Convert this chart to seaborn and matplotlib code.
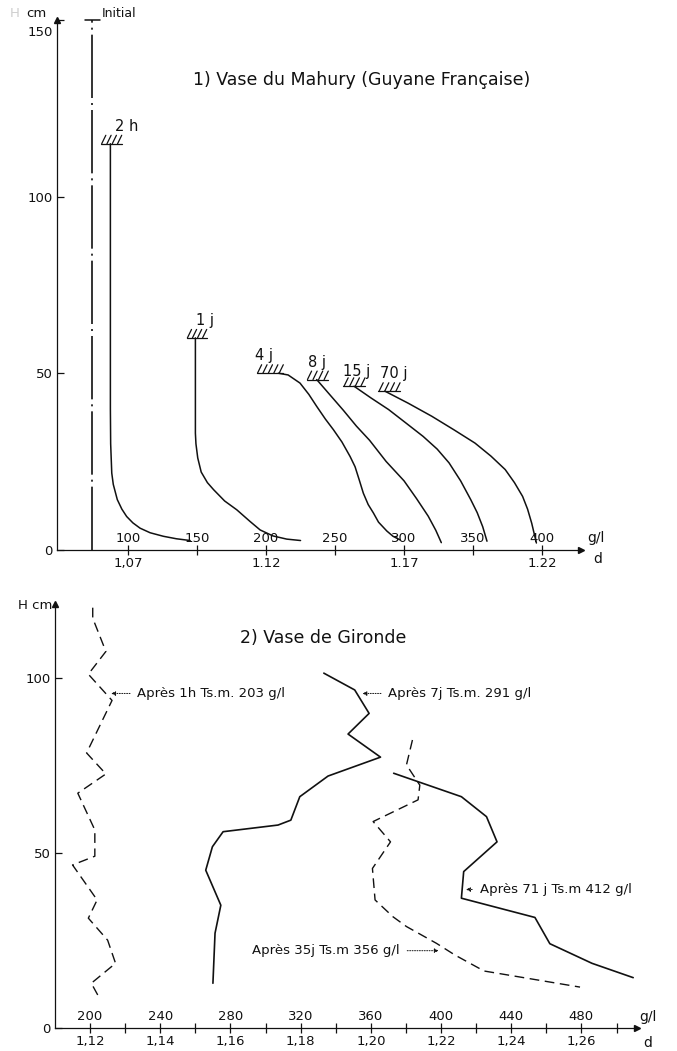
import numpy as np
import pandas as pd
import matplotlib
matplotlib.use("Agg")
import matplotlib.pyplot as plt
import matplotlib.transforms as mtransforms
import seaborn as sns

# ---------------- Panel 1 : Vase du Mahury (g/l , cm) ----------------
initial_g = [74, 74]
initial_cm = [0, 150]

h2_g = [87.2, 87.2, 87.4, 88.2, 89.3, 92.2, 95.5, 99.0, 103.5, 108.7, 116.0, 125.6, 135.0, 145.0]
h2_cm = [115, 40, 30, 21.7, 18.5, 14.2, 11.5, 9.4, 7.6, 6.1, 4.8, 3.8, 3.1, 2.6]

j1_g = [148.8, 148.8, 149.2, 150.5, 153.0, 157.5, 162.0, 170.0, 178.8, 188.4, 195.7, 205.0, 215.0, 225.0]
j1_cm = [60, 33, 30, 26, 22, 19, 17, 13.8, 11.3, 8.0, 5.6, 3.9, 3.0, 2.6]

j4_g = [208.9, 216.0, 224.6, 231.0, 236.7, 243.0, 248.8, 255.0, 260.9, 264.5, 267.5, 270.5, 274.0, 277.8, 281.5, 287.5, 292.0, 297.0]
j4_cm = [50, 49.5, 47.2, 44.0, 40.6, 37.0, 34.0, 30.5, 26.4, 23.5, 19.8, 16.0, 12.8, 10.4, 7.8, 5.3, 3.8, 2.8]

j8_g = [236.7, 246.0, 256.0, 265.5, 275.0, 287.0, 300.0, 309.0, 317.5, 323.0, 327.0]
j8_cm = [48.2, 44.0, 39.5, 35.0, 31.0, 25.0, 19.5, 14.5, 9.5, 5.5, 2.0]

j15_g = [263.8, 276.0, 288.8, 301.0, 313.8, 324.0, 332.6, 341.0, 348.3, 353.0, 357.0, 360.1]
j15_cm = [46.3, 43.0, 39.7, 36.0, 32.1, 28.5, 24.6, 19.5, 14.2, 10.5, 6.5, 2.4]

j70_g = [286.2, 303.0, 320.1, 336.0, 351.4, 363.0, 373.3, 380.0, 385.9, 389.5, 392.5, 395.9]
j70_cm = [44.9, 41.5, 37.8, 34.0, 30.2, 26.5, 22.7, 19.0, 15.1, 11.5, 7.5, 1.9]

top_curve_labels = ["2 h", "1 j", "4 j", "8 j", "15 j", "70 j"]
top_label_g = [90.5, 149.5, 192.0, 230.5, 255.5, 282.5]
top_label_cm = [120, 65, 55, 53, 50.5, 50]

top_gl_ticks = [100, 150, 200, 250, 300, 350, 400]
top_d_ticks = [1.07, 1.12, 1.17, 1.22]
top_d_labels = ["1,07", "1.12", "1.17", "1.22"]
top_y_ticks = [0, 50, 100, 150]

# ---------------- Panel 2 : Vase de Gironde (g/l , cm) ----------------
a1h_g = [201.5, 201.5, 209.0, 199.0, 212.5, 198.0, 209.0, 193.0, 202.7, 202.7, 190.0, 204.0, 199.0, 210.0, 214.5, 200.7, 205.5]
a1h_cm = [120, 117, 107.5, 101, 93.5, 78.5, 72.5, 67, 56.5, 49, 46.5, 36.5, 31.3, 25, 18.4, 12.7, 8.3]

a7j_g = [333.2, 350.8, 359.0, 347.0, 365.5, 335.6, 319.5, 314.4, 307.1, 275.8, 269.7, 265.9, 274.5, 271.2, 270.0]
a7j_cm = [101.3, 96.5, 89.8, 83.9, 77.3, 71.9, 66.0, 59.3, 57.9, 56.0, 51.7, 45.0, 35.0, 27.0, 12.7]

a35j_g = [383.7, 380.3, 387.9, 386.9, 361.3, 371.2, 360.9, 362.4, 372.6, 380.3, 397.4, 407.8, 424.5, 479.2]
a35j_cm = [82.2, 75.1, 69.3, 65.1, 58.9, 53.1, 45.5, 36.5, 31.7, 28.9, 24.1, 20.8, 16.2, 11.6]

a71j_g = [373.0, 411.6, 425.9, 431.9, 412.9, 411.6, 453.5, 462.0, 486.0, 509.5]
a71j_cm = [72.7, 66.0, 60.3, 53.1, 44.6, 37.0, 31.5, 24.0, 18.4, 14.3]

bot_notes = ["Après 1h Ts.m. 203 g/l", "Après 7j Ts.m. 291 g/l",
             "Après 71 j Ts.m 412 g/l", "Après 35j Ts.m 356 g/l"]
bot_note_tip_g = [212.0, 355.2, 414.2, 398.7]
bot_note_tip_cm = [95.5, 95.5, 39.5, 22.0]
bot_note_text_g = [227.0, 370.0, 422.0, 376.5]

bot_gl_ticks = [200, 240, 280, 320, 360, 400, 440, 480]
bot_gl_minor = [220, 260, 300, 340, 380, 420, 460, 500]
bot_d_ticks = [1.12, 1.14, 1.16, 1.18, 1.20, 1.22, 1.24, 1.26]
bot_d_labels = ["1,12", "1,14", "1,16", "1,18", "1,20", "1,22", "1,24", "1,26"]
bot_y_ticks = [0, 50, 100]


def g2d(g):
    return 1.02 + np.asarray(g) * 0.0005


def d2g(d):
    return (np.asarray(d) - 1.02) / 0.0005


def ident(x):
    return np.asarray(x)


sns.set_theme(style="white")
plt.rcParams["font.family"] = ["DejaVu Sans"]
plt.rcParams["axes.linewidth"] = 0.9

fig = plt.figure(figsize=(6.77, 10.51), dpi=100)
ax1 = fig.add_axes([56.7 / 677, (1051 - 549.7) / 1051, 524 / 677, 529.5 / 1051])
ax2 = fig.add_axes([55 / 677, (1051 - 1027.7) / 1051, 581.7 / 677, 423.5 / 1051])

K = "#111111"
LW = 1.1


def line(ax, x, y, **kw):
    sns.lineplot(x=x, y=y, ax=ax, sort=False, estimator=None, color=K, lw=kw.pop("lw", LW), **kw)


def setup_axis(ax, xlim, ylim, yticks):
    ax.set_xlim(*xlim)
    ax.set_ylim(*ylim)
    for s in ["top", "right"]:
        ax.spines[s].set_visible(False)
    for s in ["left", "bottom"]:
        ax.spines[s].set_color(K)
    ax.set_xticks([])
    ax.set_yticks(yticks)
    ax.tick_params(axis="y", direction="in", length=5, width=0.9, colors=K,
                   labelsize=9.5, pad=3, left=True)
    ax.set_facecolor("none")
    ax.grid(False)
    ax.plot([0], [1], marker="^", color=K, ms=5, transform=ax.transAxes, clip_on=False)
    ax.plot([1], [0], marker=">", color=K, ms=5, transform=ax.transAxes, clip_on=False)
    ax.set_xlabel("")
    ax.set_ylabel("")


def sec_axes(ax, gl_ticks, gl_minor, d_ticks, d_labels):
    sg = ax.secondary_xaxis(0, functions=(ident, ident))
    sg.set_alignment("top")
    sg.set_xticks(gl_ticks)
    sg.set_xticklabels([str(t) for t in gl_ticks])
    if gl_minor:
        sg.set_xticks(gl_minor, minor=True)
    sg.tick_params(axis="x", which="both", direction="inout", length=7, width=0.9,
                   colors=K, labelsize=9.5, pad=0)
    for s in sg.spines.values():
        s.set_visible(False)
    sd = ax.secondary_xaxis(0, functions=(g2d, d2g))
    sd.set_xticks(d_ticks)
    sd.set_xticklabels(d_labels)
    sd.tick_params(axis="x", length=0, colors=K, labelsize=9.5, pad=5)
    for s in sd.spines.values():
        s.set_visible(False)


def hatch(ax, g, cm, left, right, n):
    ax.plot([g - left, g + right], [cm, cm], color=K, lw=0.9)
    for x in np.linspace(g - left + 0.5, g + right - 3.0, n):
        ax.plot([x, x + 3.0], [cm, cm + 2.4], color=K, lw=0.9)


# ---------------- Panel 1 ----------------
setup_axis(ax1, (48.3, 428), (0, 150), top_y_ticks)
sec_axes(ax1, top_gl_ticks, None, top_d_ticks, top_d_labels)
# the "150" label sits a little below its tick in the reference
fig.canvas.draw()
for lab in ax1.get_yticklabels():
    if lab.get_text() == "150":
        lab.set_transform(lab.get_transform() +
                          mtransforms.ScaledTranslation(0, -8 / 72, fig.dpi_scale_trans))

line(ax1, initial_g, initial_cm, lw=1.2, linestyle=(0, (38, 3, 1.2, 3)))
ax1.plot([initial_g[1] - 5.5, initial_g[1] + 5.5], [initial_cm[1], initial_cm[1]], color=K, lw=1.1,
         clip_on=False)
ax1.text(initial_g[1] + 7, initial_cm[1] + 1.8, "Initial", fontsize=9, color=K, va="center", ha="left")

curves = [(h2_g, h2_cm), (j1_g, j1_cm), (j4_g, j4_cm), (j8_g, j8_cm), (j15_g, j15_cm), (j70_g, j70_cm)]
hatch_left = [6.8, 6.3, 15.6, 7.2, 7.8, 4.8]
hatch_right = [8.2, 8.2, 3.6, 8.4, 7.9, 10.9]
hatch_n = [4, 4, 5, 4, 4, 4]
for (gx, cy), hl, hr, hn in zip(curves, hatch_left, hatch_right, hatch_n):
    line(ax1, gx, cy)
    hatch(ax1, gx[0], cy[0], hl, hr, hn)
for lab, lg, lc in zip(top_curve_labels, top_label_g, top_label_cm):
    ax1.text(lg, lc, lab, fontsize=10.5, color=K, ha="left", va="center")

ax1.text(147, 133, "1) Vase du Mahury (Guyane Française)", fontsize=12.5, color=K,
         ha="left", va="center")

ax1.annotate("cm", xy=(0, 1), xycoords="axes fraction", xytext=(-7, 5),
             textcoords="offset points", ha="right", va="center", fontsize=9.5, color=K)
ax1.annotate("H", xy=(0, 1), xycoords="axes fraction", xytext=(-30, 5),
             textcoords="offset points", ha="center", va="center", fontsize=9.5, color="#cfcfcf")
ax1.annotate("g/l", xy=(1, 0), xycoords="axes fraction", xytext=(11, 8.4),
             textcoords="offset points", ha="center", va="center", fontsize=10, color=K)
ax1.annotate("d", xy=(1, 0), xycoords="axes fraction", xytext=(12.5, -6.5),
             textcoords="offset points", ha="center", va="center", fontsize=10, color=K)

# ---------------- Panel 2 ----------------
setup_axis(ax2, (180, 511.5), (0, 121), bot_y_ticks)
sec_axes(ax2, bot_gl_ticks, bot_gl_minor, bot_d_ticks, bot_d_labels)

dash = (0, (7, 4))
line(ax2, a1h_g, a1h_cm, lw=1.0, linestyle=dash)
line(ax2, a7j_g, a7j_cm, lw=1.2)
line(ax2, a35j_g, a35j_cm, lw=1.0, linestyle=dash)
line(ax2, a71j_g, a71j_cm, lw=1.2)

for i, (txt, tg, tc, xg) in enumerate(zip(bot_notes, bot_note_tip_g, bot_note_tip_cm, bot_note_text_g)):
    ax2.annotate(txt, xy=(tg, tc), xytext=(xg, tc), textcoords="data",
                 ha="right" if xg < tg else "left", va="center", fontsize=9.5, color=K,
                 arrowprops=dict(arrowstyle="-|>", linestyle=(0, (1, 1.5)), color=K, lw=0.7,
                                 mutation_scale=6, shrinkA=3, shrinkB=0))

ax2.text(333, 111.3, "2) Vase de Gironde", fontsize=12.5, color=K, ha="center", va="center")
ax2.annotate("H cm", xy=(0, 1), xycoords="axes fraction", xytext=(-2, -1),
             textcoords="offset points", ha="right", va="center", fontsize=9.5, color=K)
ax2.annotate("g/l", xy=(1, 0), xycoords="axes fraction", xytext=(8, 7.7),
             textcoords="offset points", ha="center", va="center", fontsize=10, color=K)
ax2.annotate("d", xy=(1, 0), xycoords="axes fraction", xytext=(8, -11),
             textcoords="offset points", ha="center", va="center", fontsize=10, color=K)

fig.savefig("out.png", dpi=100, facecolor="white")
